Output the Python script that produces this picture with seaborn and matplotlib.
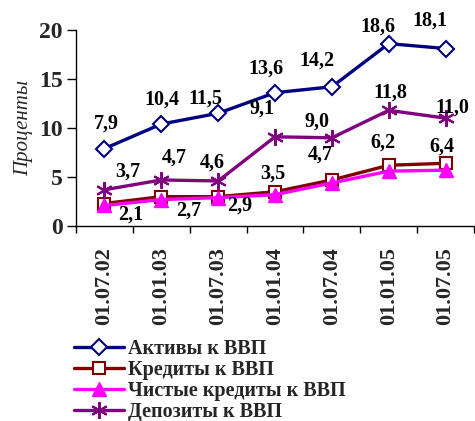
import numpy as np
import pandas as pd
import seaborn as sns
import matplotlib
matplotlib.use("Agg")
import matplotlib.pyplot as plt
from matplotlib.lines import Line2D

dates = ["01.07.02", "01.01.03", "01.07.03", "01.01.04", "01.07.04", "01.01.05", "01.07.05"]
assets = [7.9, 10.4, 11.5, 13.6, 14.2, 18.6, 18.1]
credits = [2.3, 3.0, 3.0, 3.5, 4.7, 6.2, 6.4]
net_credits = [2.1, 2.7, 2.9, 3.2, 4.4, 5.6, 5.7]
deposits = [3.7, 4.7, 4.6, 9.1, 9.0, 11.8, 11.0]

series_names = ["Активы к ВВП", "Кредиты к ВВП", "Чистые кредиты к ВВП", "Депозиты к ВВП"]
y_label = "Проценты"

sns.set_theme(style="white")
plt.rcParams["font.family"] = ["Liberation Serif", "DejaVu Serif"]

fig = plt.figure(figsize=(4.75, 4.21), dpi=100)
ax = fig.add_axes([0.16, 0.463, 0.838, 0.466])

x = np.arange(len(dates))
styles = [
    dict(color="#000080", marker="D", markersize=8, markerfacecolor="white", markeredgecolor="#000080", markeredgewidth=1.5),
    dict(color="#800000", marker="s", markersize=9, markerfacecolor="white", markeredgecolor="#800000", markeredgewidth=1.5),
    dict(color="#FF00FF", marker="^", markersize=10, markerfacecolor="#FF00FF", markeredgecolor="#FF00FF", markeredgewidth=1),
    dict(color="#800080", marker=(6, 2, 0), markersize=12, markerfacecolor="#800080", markeredgecolor="#800080", markeredgewidth=1.5),
]
data = [assets, credits, net_credits, deposits]
for vals, st in zip(data, styles):
    df = pd.DataFrame({"x": x, "y": vals})
    sns.lineplot(data=df, x="x", y="y", ax=ax, linewidth=2.4, legend=False, **st)

def lab(vals, idxs, offsets, texts=None):
    for k, (i, (dx, dy)) in enumerate(zip(idxs, offsets)):
        t = f"{vals[i]:.1f}".replace(".", ",") if texts is None else texts[k]
        ax.annotate(t, (x[i], vals[i]), xytext=(dx * 0.72, dy * 0.72), textcoords="offset points",
                    ha="center", va="center", fontsize=14.5, fontweight="bold", color="black")

lab(assets, range(7), [(2, 25), (1, 24), (-13, 15), (-9, 24), (-15, 26), (-11, 17), (-16, 28)])
lab(deposits, range(7), [(23, 18), (13, 22), (-6, 18), (-13, 28), (-15, 16), (2, 18), (7, 11)])
lab(net_credits, range(3), [(26, -9), (27, -11), (22, -8)])
lab(credits, range(3, 7), [(-2, 18), (-12, 25), (-6, 23), (-4, 17)])

ax.set_xlim(-0.5, 6.5)
ax.set_ylim(0, 20)
ax.set_yticks([0, 5, 10, 15, 20])
ax.set_xticks(x)
ax.set_xticklabels(dates, rotation=90, fontsize=16, fontweight="bold")
ax.set_xticks(np.arange(-0.5, 7.0, 1.0), minor=True)
ax.tick_params(axis="x", which="major", length=0, pad=15)
ax.tick_params(axis="x", which="minor", length=5, width=1, direction="out", bottom=True, color="black")
ax.tick_params(axis="y", length=6.5, width=1, direction="out", left=True, pad=3, labelsize=17, color="black")
for lbl in ax.get_yticklabels():
    lbl.set_fontweight("bold")
ax.set_xlabel("")
ax.set_ylabel(y_label, fontsize=15, fontstyle="italic", labelpad=4)
for s in ["top", "right"]:
    ax.spines[s].set_visible(False)
for s in ["left", "bottom"]:
    ax.spines[s].set_color("black")
    ax.spines[s].set_linewidth(1)

handles = [Line2D([0], [0], linewidth=2.4, **st) for st in styles]
fig.legend(handles, series_names, loc="upper left", bbox_to_anchor=(0.156, 0.195),
           frameon=False, handlelength=2.5, handletextpad=0.2, labelspacing=0.05,
           prop={"family": ["Liberation Serif", "DejaVu Serif"], "weight": "bold", "size": 14.5},
           borderaxespad=0, borderpad=0)

fig.savefig("out.png", dpi=100)
